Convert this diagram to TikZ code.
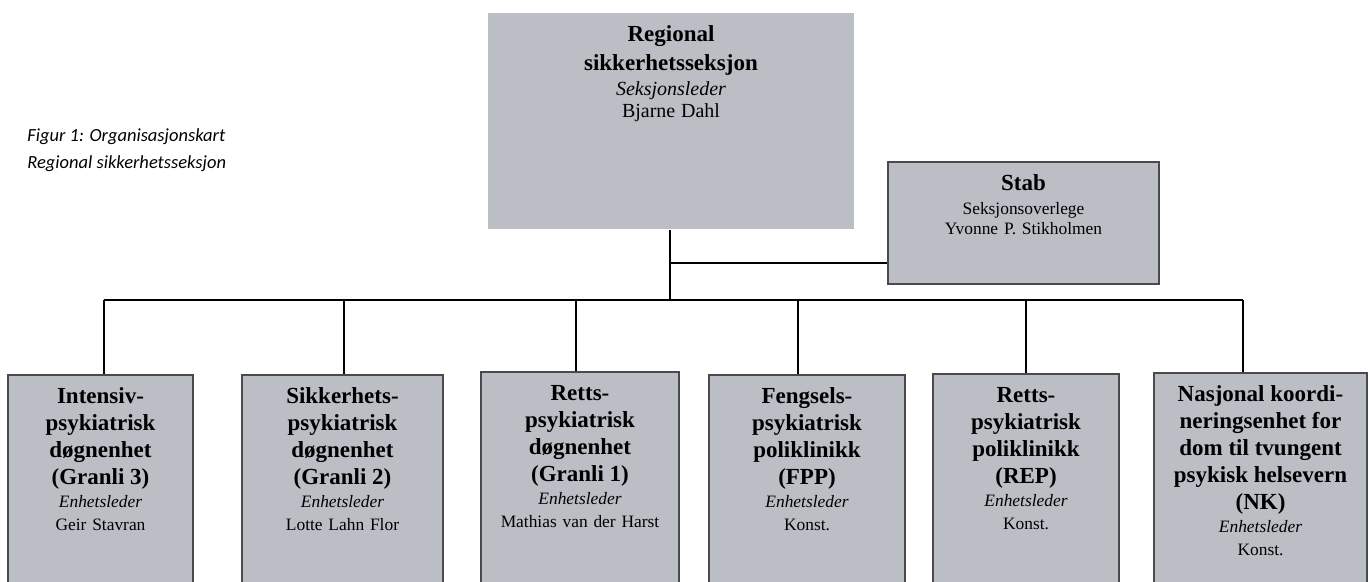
\documentclass[tikz,border=0pt]{standalone}
\usepackage{fontspec}
\setmainfont{Liberation Serif}
\newfontfamily\figfont{Carlito}
\usetikzlibrary{positioning}
\definecolor{boxgray}{HTML}{BCBEC6}
\definecolor{edgegray}{HTML}{4A4A4A}
\tikzset{auto, >=latex, font=\fontsize{8.7}{11.5}\selectfont}
\tikzstyle{block} = [fill=boxgray, anchor=north, align=center, inner xsep=2pt, inner ysep=3pt, text height=11.5pt]
\tikzstyle{unit} = [block, draw=edgegray, line width=0.8pt, text depth=100pt]
\tikzstyle{conn} = [draw, line width=1pt]
\tikzstyle{caption} = [anchor=base west, align=left, inner sep=0pt, font=\figfont\itshape\fontsize{9.25}{13.5}\selectfont]

\begin{document}
\begin{tikzpicture}[x=0.5pt, y=-0.5pt]
    \useasboundingbox (0,0) rectangle (1370,582);
    \node [caption] (fig) at (27,169) {Figur 1: Organisasjonskart\\Regional sikkerhetsseksjon};

    % top of the tree
    \node [block, text width=179pt, text height=11pt, text depth=91pt] (sek) at (671,13) {{\fontsize{11.5}{14.5}\selectfont\bfseries Regional\\sikkerhetsseksjon\par}{\fontsize{10}{12.5}\selectfont\itshape Seksjonsleder\par}{\fontsize{10}{11}\selectfont Bjarne Dahl\par}};
    \node [block, draw=edgegray, line width=0.8pt, text width=131.5pt, text depth=43.5pt] (stab) at (1023.5,161) {{\fontsize{11.5}{14}\selectfont\bfseries Stab\par}\vspace{2pt}{\fontsize{8.7}{10}\selectfont Seksjonsoverlege\\Yvonne P.\ Stikholmen\par}};

    % units
    \node [unit, text width=88.5pt] (g3) at (100.5,374) {{\fontsize{11.5}{13.5}\selectfont\bfseries Intensiv-\\psykiatrisk\\døgnenhet\\(Granli 3)\par}{\itshape Enhetsleder\par}Geir Stavran};
    \node [unit, text width=96.5pt] (g2) at (342.5,374) {{\fontsize{11.5}{13.5}\selectfont\bfseries Sikkerhets-\\psykiatrisk\\døgnenhet\\(Granli 2)\par}{\itshape Enhetsleder\par}Lotte Lahn Flor};
    \node [unit, text width=95pt] (g1) at (580,371) {{\fontsize{11.5}{13.5}\selectfont\bfseries Retts-\\psykiatrisk\\døgnenhet\\(Granli 1)\par}{\itshape Enhetsleder\par}Mathias van der Harst};
    \node [unit, text width=94pt] (fpp) at (807,374) {{\fontsize{11.5}{13.5}\selectfont\bfseries Fengsels-\\psykiatrisk\\poliklinikk\\(FPP)\par}{\itshape Enhetsleder\par}Konst.};
    \node [unit, text width=89pt] (rep) at (1026,373) {{\fontsize{11.5}{13.5}\selectfont\bfseries Retts-\\psykiatrisk\\poliklinikk\\(REP)\par}{\itshape Enhetsleder\par}Konst.};
    \node [unit, text width=102.5pt] (nk) at (1260.5,372) {{\fontsize{11.5}{13.5}\selectfont\bfseries Nasjonal koordi-\\neringsenhet for\\dom til tvungent\\psykisk helsevern\\(NK)\par}{\itshape Enhetsleder\par}Konst.};

    % connectors
    \coordinate (tap) at (670,263);
    \coordinate (hub) at (670,300);
    \coordinate (d1) at (104,300);
    \coordinate (d2) at (344,300);
    \coordinate (d3) at (576,300);
    \coordinate (d4) at (798,300);
    \coordinate (d5) at (1026,300);
    \coordinate (d6) at (1243,300);

    \draw [conn] (sek.south -| hub) -- (hub);
    \draw [conn] (tap) -- (tap -| stab.west);
    \draw [conn] (d1) -- (d6);
    \foreach \d/\u in {d1/g3, d2/g2, d3/g1, d4/fpp, d5/rep, d6/nk}
        \draw [conn] (\d) -- (\d |- \u.north);
\end{tikzpicture}
\end{document}
